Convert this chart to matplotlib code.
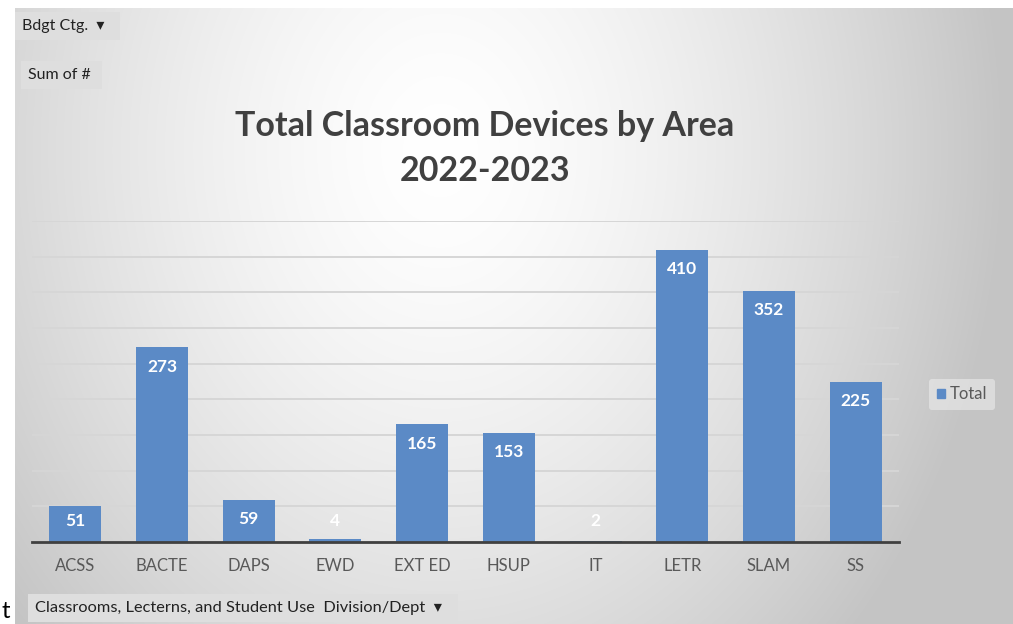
import matplotlib.pyplot as plt
import matplotlib.patches as mpatches
import numpy as np

# Pivot chart data: Sum of # by Division/Dept
areas = ["ACSS", "BACTE", "DAPS", "EWD", "EXT ED", "HSUP", "IT", "LETR", "SLAM", "SS"]
totals = [51, 273, 59, 4, 165, 153, 2, 410, 352, 225]
title_lines = ["Total Classroom Devices by Area", "2022-2023"]

plt.rcParams["font.family"] = ["Lato", "DejaVu Sans"]

W, H = 1013, 624
fig = plt.figure(figsize=(W / 100, H / 100), dpi=100)
fig.patch.set_facecolor("white")

# soft radial background of the chart area
bg = fig.add_axes([15 / W, 0, (W - 15) / W, (H - 8) / H])
yy, xx = np.mgrid[8:H, 15:W]
d = np.sqrt(((xx - 440) / 560.0) ** 2 + ((yy - 150) / 700.0) ** 2)
shade = np.clip(255 - 58 * d ** 1.5, 196, 255) / 255.0
bg.imshow(np.dstack([shade] * 3), aspect="auto", interpolation="bilinear")
bg.axis("off")

# plot area
ax = fig.add_axes([32 / W, (H - 542) / H, 867 / W, 321 / H])
ax.patch.set_alpha(0)
x = np.arange(len(areas))
bars = ax.bar(x, totals, width=0.6, color="#5b8ac6", zorder=3)
ax.set_xlim(-0.5, len(areas) - 0.5)
ax.set_ylim(0, 450)
ax.set_yticks(np.arange(0, 451, 50))
ax.yaxis.grid(True, color="#d6d6d6", linewidth=1.4, zorder=0)
ax.tick_params(axis="y", left=False, labelleft=False)
ax.tick_params(axis="x", bottom=False, labelsize=12, labelcolor="#595959", pad=8)
ax.set_xticks(x)
ax.set_xticklabels(areas)
for s in ["top", "right", "left"]:
    ax.spines[s].set_visible(False)
ax.spines["bottom"].set_color("#404040")
ax.spines["bottom"].set_linewidth(2)
ax.spines["bottom"].set_zorder(4)

# value labels inside the top of each bar
for xi, v in zip(x, totals):
    ax.annotate(str(v), (xi, max(v, 56)), xytext=(0, -14), textcoords="offset points",
                ha="center", va="center", color="white", fontsize=12.5,
                fontweight="bold", zorder=5)

# title
fig.text(485 / W, 1 - 126 / H, title_lines[0], ha="center", va="center",
         fontsize=24.5, fontweight="bold", color="#404040")
fig.text(485 / W, 1 - 171 / H, title_lines[1], ha="center", va="center",
         fontsize=24.5, fontweight="bold", color="#404040")

# legend
leg = ax.legend([mpatches.Patch(color="#5b8ac6")], ["Total"], loc="center left",
                bbox_to_anchor=(1.025, 0.46), frameon=True, fontsize=12,
                handlelength=0.5, handleheight=0.5, handletextpad=0.3,
                borderpad=0.45, labelcolor="#595959")
leg.get_frame().set_facecolor("#ececec")
leg.get_frame().set_edgecolor("none")
leg.get_frame().set_alpha(0.6)

# pivot field buttons
btn = dict(boxstyle="square,pad=0.45", facecolor="#dedede", edgecolor="none")
fig.text(22 / W, 1 - 26 / H, "Bdgt Ctg.  \u25be  ", ha="left", va="center",
         fontsize=11.5, color="#222222", bbox=btn)
fig.text(28 / W, 1 - 75 / H, "Sum of # ", ha="left", va="center",
         fontsize=11.5, color="#222222", bbox=btn)
fig.text(35 / W, 1 - 608 / H,
         "Classrooms, Lecterns, and Student Use  Division/Dept  \u25be  ",
         ha="left", va="center", fontsize=11.8, color="#222222", bbox=btn)
fig.text(2 / W, 1 - 611 / H, "t", ha="left", va="center", fontsize=17,
         color="black")

fig.savefig("out.png", dpi=100)
